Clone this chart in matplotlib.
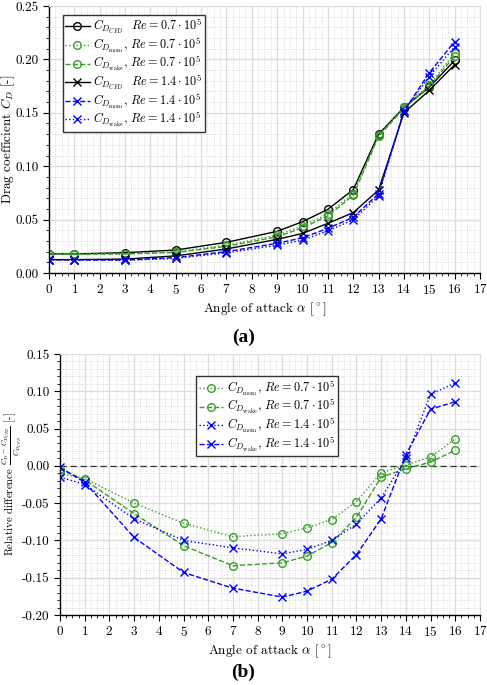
import numpy as np
import matplotlib
matplotlib.use('Agg')
import matplotlib.pyplot as plt
from matplotlib.ticker import MultipleLocator, AutoMinorLocator, FormatStrFormatter

plt.rcParams['font.family'] = 'cmr10'
plt.rcParams['mathtext.fontset'] = 'cm'
plt.rcParams['axes.formatter.use_mathtext'] = True
plt.rcParams['axes.unicode_minus'] = False

# angle of attack [deg]
alpha = [0, 1, 3, 5, 7, 9, 10, 11, 12, 13, 14, 15, 16]

# drag coefficients (a)
cd_cfd_07 = [0.0178, 0.0178, 0.0190, 0.0215, 0.0287, 0.0390, 0.0480, 0.0596, 0.0780, 0.1300, 0.1550, 0.1740, 0.1990]
cd_mom_07 = [0.0176, 0.0175, 0.0180, 0.0198, 0.0260, 0.0355, 0.0440, 0.0553, 0.0743, 0.1290, 0.1552, 0.1760, 0.2060]
cd_wake_07 = [0.0177, 0.0175, 0.0178, 0.0192, 0.0249, 0.0339, 0.0422, 0.0535, 0.0726, 0.1280, 0.1540, 0.1750, 0.2030]
cd_cfd_14 = [0.0125, 0.0125, 0.0130, 0.0160, 0.0225, 0.0315, 0.0370, 0.0465, 0.0565, 0.0777, 0.1500, 0.1710, 0.1950]
cd_mom_14 = [0.0123, 0.0122, 0.0121, 0.0144, 0.0200, 0.0278, 0.0329, 0.0418, 0.0521, 0.0744, 0.1515, 0.1874, 0.2167]
cd_wake_14 = [0.0125, 0.0122, 0.0118, 0.0137, 0.0188, 0.0260, 0.0308, 0.0394, 0.0498, 0.0722, 0.1520, 0.1840, 0.2118]

# relative difference to CFD (b)
rel_mom_07 = [-0.010, -0.017, -0.050, -0.077, -0.095, -0.091, -0.083, -0.072, -0.048, -0.009, 0.001, 0.012, 0.036]
rel_wake_07 = [-0.004, -0.019, -0.064, -0.107, -0.134, -0.130, -0.121, -0.103, -0.069, -0.015, -0.004, 0.005, 0.021]
rel_mom_14 = [-0.015, -0.025, -0.071, -0.100, -0.110, -0.118, -0.112, -0.100, -0.078, -0.043, 0.010, 0.096, 0.111]
rel_wake_14 = [-0.002, -0.022, -0.096, -0.143, -0.164, -0.176, -0.168, -0.152, -0.119, -0.071, 0.015, 0.076, 0.086]

green = '#3a9e2a'
blue = '#0000ff'
lab_cfd07 = r'$C_{D_{CFD}}$  $Re = 0.7\cdot10^5$'
lab_mom07 = r'$C_{D_{\mathrm{mom}}}$, $Re = 0.7\cdot10^5$'
lab_wake07 = r'$C_{D_{\mathrm{wake}}}$, $Re = 0.7\cdot10^5$'
lab_cfd14 = r'$C_{D_{CFD}}$  $Re = 1.4\cdot10^5$'
lab_mom14 = r'$C_{D_{\mathrm{mom}}}$, $Re = 1.4\cdot10^5$'
lab_wake14 = r'$C_{D_{\mathrm{wake}}}$, $Re = 1.4\cdot10^5$'
xlab = r'Angle of attack $\alpha$ [$^\circ$]'
fs = 9.5
lfs = 8.8


def style_axes(ax, ymajor, yminor):
    ax.set_xlim(0, 17)
    ax.xaxis.set_major_locator(MultipleLocator(1))
    ax.xaxis.set_minor_locator(AutoMinorLocator(4))
    ax.yaxis.set_major_locator(MultipleLocator(ymajor))
    ax.yaxis.set_minor_locator(MultipleLocator(yminor))
    ax.yaxis.set_major_formatter(FormatStrFormatter('%.2f'))
    ax.grid(which='major', color='#dcdcdc', lw=0.9)
    ax.grid(which='minor', color='#d0d0d0', lw=0.6, ls=':')
    ax.set_axisbelow(True)
    for s in ['top', 'right']:
        ax.spines[s].set_color('#dcdcdc')
    for s in ['left', 'bottom']:
        ax.spines[s].set_linewidth(1.0)
    ax.tick_params(which='both', top=False, right=False, labelsize=fs)
    ax.tick_params(which='major', length=4)
    ax.tick_params(which='minor', length=2)


def make_legend(ax, anchor):
    leg = ax.legend(loc='upper left', bbox_to_anchor=anchor, fontsize=lfs,
                    fancybox=False, edgecolor='#333333', framealpha=1,
                    handlelength=2.0, handletextpad=0.3, borderpad=0.2,
                    labelspacing=-0.05, borderaxespad=0)
    leg.get_frame().set_linewidth(1.0)
    return leg


fig = plt.figure(figsize=(4.87, 6.85), dpi=100)

# (a) drag coefficient
ax1 = fig.add_axes([0.1006, 0.6015, 0.885, 0.3897])
mk = dict(ms=5.5, mfc='none', mew=1.0, lw=1.0)
ax1.plot(alpha, cd_cfd_07, color='black', ls='-', marker='o', label=lab_cfd07, **mk)
ax1.plot(alpha, cd_mom_07, color=green, ls=':', marker='o', label=lab_mom07, **mk)
ax1.plot(alpha, cd_wake_07, color=green, ls='--', marker='o', label=lab_wake07, **mk)
ax1.plot(alpha, cd_cfd_14, color='black', ls='-', marker='x', label=lab_cfd14, **mk)
ax1.plot(alpha, cd_mom_14, color=blue, ls='--', marker='x', label=lab_mom14, **mk)
ax1.plot(alpha, cd_wake_14, color=blue, ls=':', marker='x', label=lab_wake14, **mk)
ax1.set_ylim(0, 0.25)
style_axes(ax1, 0.05, 0.01)
ax1.set_xlabel(xlab, fontsize=fs, labelpad=2)
ax1.set_ylabel(r'Drag coefficient $C_D$ [-]', fontsize=fs, va='center')
ax1.yaxis.set_label_coords(-0.094, 0.5)
make_legend(ax1, (0.032, 0.968))

# (b) relative difference
ax2 = fig.add_axes([0.1232, 0.1022, 0.8624, 0.381])
ax2.axhline(0, color='#333333', ls='--', lw=0.9, dashes=(5, 3))
ax2.plot(alpha, rel_mom_07, color=green, ls=':', marker='o', label=lab_mom07, **mk)
ax2.plot(alpha, rel_wake_07, color=green, ls='--', marker='o', label=lab_wake07, **mk)
ax2.plot(alpha, rel_mom_14, color=blue, ls=':', marker='x', label=lab_mom14, **mk)
ax2.plot(alpha, rel_wake_14, color=blue, ls='--', marker='x', label=lab_wake14, **mk)
ax2.set_ylim(-0.20, 0.15)
style_axes(ax2, 0.05, 0.01)
ax2.set_xlabel(xlab, fontsize=fs, labelpad=2)
ax2.set_ylabel(r'Relative difference $\frac{C_D - C_{D_{CFD}}}{C_{D_{CFD}}}$ [-]',
               fontsize=7.8, va='center')
ax2.yaxis.set_label_coords(-0.114, 0.5)
make_legend(ax2, (0.325, 0.915))

fig.text(0.5, 0.508, '(a)', ha='center', va='center', fontsize=14,
         fontweight='bold', family='Liberation Serif')
fig.text(0.5, 0.019, '(b)', ha='center', va='center', fontsize=14,
         fontweight='bold', family='Liberation Serif')

fig.savefig('out.png', dpi=100)
